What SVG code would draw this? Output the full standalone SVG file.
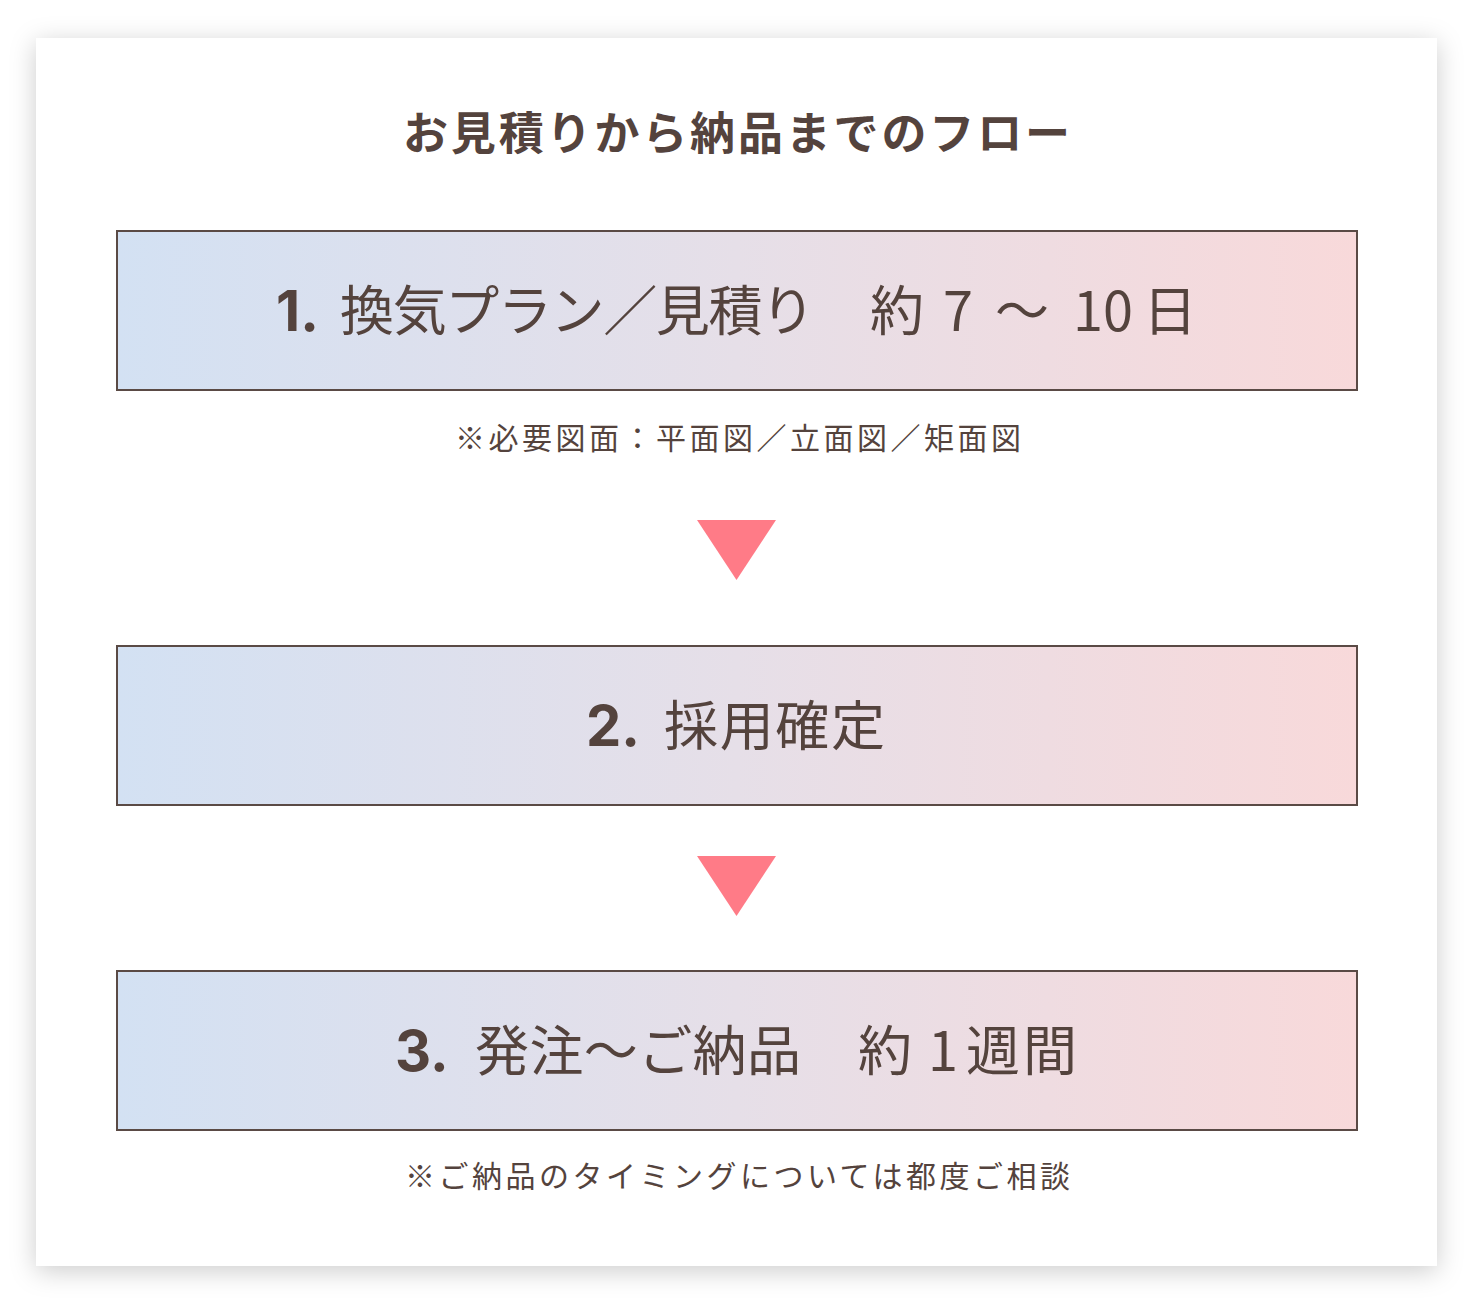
<svg xmlns="http://www.w3.org/2000/svg" width="1474" height="1302" viewBox="0 0 1474 1302">
<defs>
<linearGradient id="g" x1="0" y1="0" x2="1" y2="0">
<stop offset="0" stop-color="#d3e1f3"/>
<stop offset="0.5" stop-color="#e6dfe8"/>
<stop offset="1" stop-color="#f8d9da"/>
</linearGradient>
<filter id="sh" x="-10%" y="-10%" width="120%" height="120%">
<feDropShadow dx="0" dy="5" stdDeviation="13" flood-color="#000" flood-opacity="0.2"/>
</filter>
<style>
.box{fill:url(#g);stroke:#5a4a45;stroke-width:2}
.t{fill:#54433d;font-family:"Noto Sans CJK JP","Noto Sans",sans-serif}
.num{font-family:"Inter","Noto Sans",sans-serif;font-weight:700}
.big{font-size:54px}
.note{font-size:30px}
.arr{fill:#ff7b87}
</style>
</defs>
<rect width="1474" height="1302" fill="#ffffff"/>
<rect x="36" y="38" width="1401" height="1228" fill="#ffffff" filter="url(#sh)"/>
<g id="title">
<text class="t" x="403" y="150" font-size="45" font-weight="700" textLength="667" lengthAdjust="spacing">お見積りから納品までのフロー</text>
</g>
<g id="step1">
<rect class="box" x="117" y="231" width="1240" height="159"/>
<text class="t big" y="331"><tspan class="num" x="276" font-size="56">1.</tspan><tspan x="340" textLength="475" lengthAdjust="spacing">換気プラン／見積り</tspan><tspan x="870">約</tspan><tspan x="943">7</tspan><tspan x="995">～</tspan><tspan x="1073">10</tspan><tspan x="1143">日</tspan></text>
<text class="t note" x="455" y="449" textLength="566" lengthAdjust="spacing">※必要図面：平面図／立面図／矩面図</text>
</g>
<g id="step2">
<rect class="box" x="117" y="646" width="1240" height="159"/>
<text class="t big" y="746"><tspan class="num" x="586" font-size="56">2.</tspan><tspan x="664" textLength="221" lengthAdjust="spacing">採用確定</tspan></text>
</g>
<g id="step3">
<rect class="box" x="117" y="971" width="1240" height="159"/>
<text class="t big" y="1071"><tspan class="num" x="395" font-size="56">3.</tspan><tspan x="475" textLength="326" lengthAdjust="spacing">発注～ご納品</tspan><tspan x="858">約</tspan><tspan x="928">1</tspan><tspan x="966" textLength="111" lengthAdjust="spacing">週間</tspan></text>
<text class="t note" x="405" y="1187" textLength="665" lengthAdjust="spacing">※ご納品のタイミングについては都度ご相談</text>
</g>
<g id="connectors">
<polygon class="arr" points="697,520 776,520 736.5,580"/>
<polygon class="arr" points="697,856 776,856 736.5,916"/>
</g>
</svg>
